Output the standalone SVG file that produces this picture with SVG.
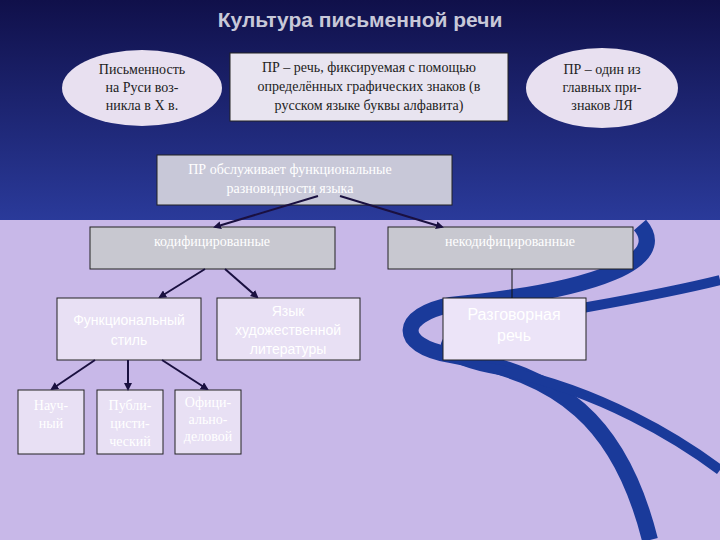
<svg xmlns="http://www.w3.org/2000/svg" width="720" height="540" viewBox="0 0 720 540">
<defs>
<linearGradient id="bg" x1="0" y1="0" x2="0" y2="1"><stop offset="0" stop-color="#10104a"/><stop offset="1" stop-color="#2a3a9a"/></linearGradient>
<marker id="ah" markerWidth="8" markerHeight="8" refX="6" refY="4" orient="auto" markerUnits="userSpaceOnUse"><path d="M0,0 L8,4 L0,8 z" fill="#1a1040"/></marker>
<style>
.srv{font-family:"Liberation Serif",serif;font-size:14px;text-anchor:middle}
.dk{fill:#222}
.wh{fill:#fff}
.sans{font-family:"Liberation Sans",sans-serif;text-anchor:middle;fill:#fff}
.box{stroke:#222;stroke-width:1}
.con{stroke:#1a1040;stroke-width:2;fill:none}
</style>
</defs>
<rect width="720" height="540" fill="#c8b8e8"/>
<rect width="720" height="220" fill="url(#bg)"/>
<g fill="none" stroke="#1a3a9a">
<path d="M640,225 C670,260 600,290 450,305 C400,315 395,345 450,355 C560,375 620,420 650,540" stroke-width="16"/>
<path d="M720,280 C640,300 560,310 470,330 C430,340 440,360 500,370 C600,390 680,440 720,470" stroke-width="10"/>
</g>
<text x="360" y="27" font-family="Liberation Sans,sans-serif" font-size="21" font-weight="bold" fill="#c8c8d8" text-anchor="middle">Культура письменной речи</text>
<g id="n-ellipse-left"><ellipse cx="142" cy="88" rx="80" ry="38" fill="#e8e0f0"/>
<text class="srv dk" x="142" y="74">Письменность</text><text class="srv dk" x="142" y="92">на Руси воз-</text><text class="srv dk" x="142" y="110">никла в X в.</text></g>
<g id="n-def"><rect class="box" x="230" y="53" width="278" height="68" fill="#e8e4f0"/>
<text class="srv dk" x="369" y="72">ПР – речь, фиксируемая с помощью</text><text class="srv dk" x="369" y="91">определённых графических знаков (в</text><text class="srv dk" x="369" y="110">русском языке буквы алфавита)</text></g>
<g id="n-ellipse-right"><ellipse cx="602" cy="88" rx="76" ry="40" fill="#e8e0f0"/>
<text class="srv dk" x="602" y="74">ПР – один из</text><text class="srv dk" x="602" y="92">главных при-</text><text class="srv dk" x="602" y="110">знаков ЛЯ</text></g>
<g id="n-serve"><rect class="box" x="157" y="155" width="295" height="50" fill="#c8c8d8"/>
<text class="srv wh" x="290" y="174">ПР обслуживает функциональные</text><text class="srv wh" x="290" y="193">разновидности языка</text></g>
<g id="n-cod"><rect class="box" x="90" y="227" width="245" height="42" fill="#c8c8d0"/><text class="srv wh" x="212" y="246">кодифицированные</text></g>
<g id="n-uncod"><rect class="box" x="388" y="227" width="245" height="42" fill="#c8c8d0"/><text class="srv wh" x="510" y="246">некодифицированные</text></g>
<g id="n-func"><rect class="box" x="57" y="298" width="144" height="62" fill="#e8e0f4"/><text class="sans" font-size="14" x="129" y="325">Функциональный</text><text class="sans" font-size="14" x="129" y="345">стиль</text></g>
<g id="n-lit"><rect class="box" x="217" y="298" width="143" height="62" fill="#e8e0f4"/><text class="sans" font-size="14" x="288" y="316">Язык</text><text class="sans" font-size="14" x="288" y="335">художественной</text><text class="sans" font-size="14" x="288" y="354">литературы</text></g>
<g id="n-razg"><rect class="box" x="443" y="298" width="143" height="62" fill="#ece4f8"/><text class="sans" font-size="16" x="514" y="320">Разговорная</text><text class="sans" font-size="16" x="514" y="341">речь</text></g>
<g id="n-nauch"><rect class="box" x="18" y="390" width="66" height="64" fill="#e8e0f4"/><text class="srv wh" x="51" y="410">Науч-</text><text class="srv wh" x="51" y="428">ный</text></g>
<g id="n-publ"><rect class="box" x="97" y="390" width="66" height="64" fill="#e8e0f4"/><text class="srv wh" x="130" y="410">Публи-</text><text class="srv wh" x="130" y="428">цисти-</text><text class="srv wh" x="130" y="446">ческий</text></g>
<g id="n-ofic"><rect class="box" x="175" y="390" width="66" height="64" fill="#e8e0f4"/><text class="srv wh" x="208" y="407" font-size="11">Офици-</text><text class="srv wh" x="208" y="424" font-size="11">ально-</text><text class="srv wh" x="208" y="441" font-size="11">деловой</text></g>
<g id="connectors">
<path class="con" d="M318,196 L215,227" marker-end="url(#ah)"/>
<path class="con" d="M340,196 L442,227" marker-end="url(#ah)"/>
<path class="con" d="M205,269 L160,297" marker-end="url(#ah)"/>
<path class="con" d="M225,269 L257,297" marker-end="url(#ah)"/>
<path d="M512,269 L512,298" stroke="#111" stroke-width="1"/>
<path class="con" d="M95,360 L52,389" marker-end="url(#ah)"/>
<path class="con" d="M128,360 L128,389" marker-end="url(#ah)"/>
<path class="con" d="M162,360 L207,389" marker-end="url(#ah)"/>
</g>
</svg>
